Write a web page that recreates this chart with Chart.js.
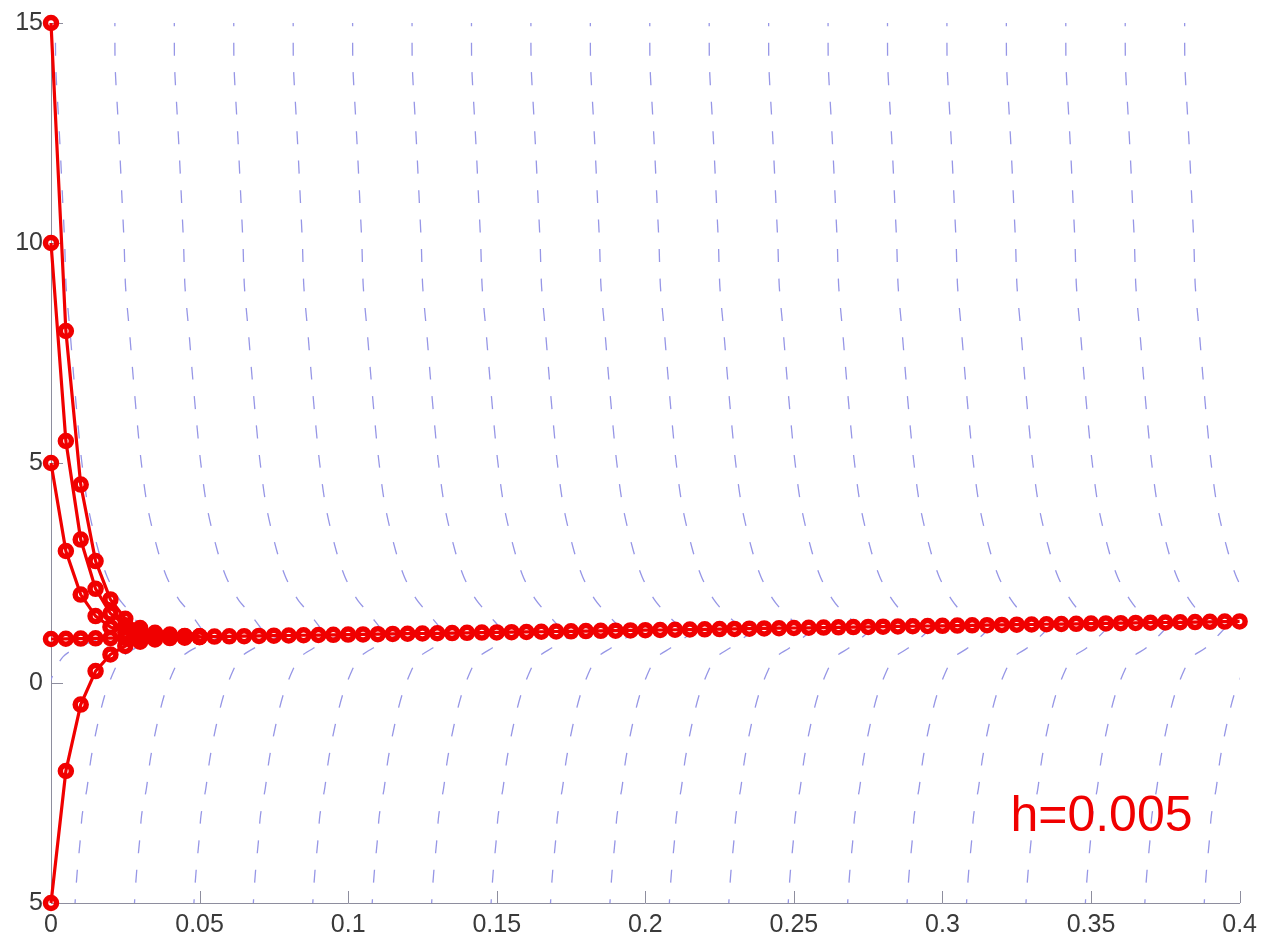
<!DOCTYPE html>
<html>
<head>
<meta charset="utf-8">
<title>Euler h=0.005</title>
<script src="https://cdn.jsdelivr.net/npm/chart.js@4.4.1/dist/chart.umd.min.js"></script>
<style>
    html, body { margin: 0; padding: 0; background: #fff; }
    canvas { display: block; }
</style>
</head>
<body>
<canvas id="euler-chart" width="1264" height="940"></canvas>
<script>
// time steps, h = 0.005
const steps = [
    0, 0.005, 0.01, 0.015, 0.02, 0.025, 0.03, 0.035, 0.04, 0.045,
    0.05, 0.055, 0.06, 0.065, 0.07, 0.075, 0.08, 0.085, 0.09, 0.095,
    0.1, 0.105, 0.11, 0.115, 0.12, 0.125, 0.13, 0.135, 0.14, 0.145,
    0.15, 0.155, 0.16, 0.165, 0.17, 0.175, 0.18, 0.185, 0.19, 0.195,
    0.2, 0.205, 0.21, 0.215, 0.22, 0.225, 0.23, 0.235, 0.24, 0.245,
    0.25, 0.255, 0.26, 0.265, 0.27, 0.275, 0.28, 0.285, 0.29, 0.295,
    0.3, 0.305, 0.31, 0.315, 0.32, 0.325, 0.33, 0.335, 0.34, 0.345,
    0.35, 0.355, 0.36, 0.365, 0.37, 0.375, 0.38, 0.385, 0.39, 0.395,
    0.4,
];

// Euler iterates for each starting value
const fromOne = [
    1, 1.005, 1.01, 1.015, 1.02, 1.025, 1.03, 1.035, 1.04, 1.045,
    1.05, 1.055, 1.06, 1.065, 1.07, 1.075, 1.08, 1.085, 1.09, 1.095,
    1.1, 1.105, 1.11, 1.115, 1.12, 1.125, 1.13, 1.135, 1.14, 1.145,
    1.15, 1.155, 1.16, 1.165, 1.17, 1.175, 1.18, 1.185, 1.19, 1.195,
    1.2, 1.205, 1.21, 1.215, 1.22, 1.225, 1.23, 1.235, 1.24, 1.245,
    1.25, 1.255, 1.26, 1.265, 1.27, 1.275, 1.28, 1.285, 1.29, 1.295,
    1.3, 1.305, 1.31, 1.315, 1.32, 1.325, 1.33, 1.335, 1.34, 1.345,
    1.35, 1.355, 1.36, 1.365, 1.37, 1.375, 1.38, 1.385, 1.39, 1.395,
    1.4,
];
const fromFifteen = [15, 8.0, 4.51, 2.77, 1.9, 1.46, 1.25, 1.14, 1.1, 1.07, 1.06];
const fromTen = [10, 5.5, 3.26, 2.14, 1.58, 1.31, 1.17, 1.11, 1.08, 1.06, 1.06];
const fromFive = [5, 3.0, 2.01, 1.52, 1.27, 1.15, 1.09, 1.07, 1.06, 1.05, 1.05];
const fromMinusFive = [-5, -2.0, -0.49, 0.27, 0.65, 0.84, 0.94, 0.99, 1.02, 1.03, 1.04];

const xTickLabels = ['0', '0.05', '0.1', '0.15', '0.2', '0.25', '0.3', '0.35', '0.4'];
const yTickLabels = ['5', '0', '5', '10', '15'];

// direction field: dashed solution curves coming in from the top edge...
const topStarts = [
    0.0015, 0.0215, 0.0415, 0.0615, 0.0815, 0.1015, 0.1215, 0.1415, 0.1615, 0.1815,
    0.2015, 0.2215, 0.2415, 0.2615, 0.2815, 0.3015, 0.3215, 0.3415, 0.3615, 0.3815,
];
const topCurveY = [15.3, 15, 14, 13, 12, 11, 10, 9, 8, 7, 6, 5, 4, 3, 2.4, 1.9, 1.6, null];
const topCurveDx = [0, 0, 0.0001, 0.0009, 0.0017, 0.0024, 0.0031, 0.0036, 0.0049, 0.0061, 0.0074, 0.0089, 0.011, 0.0145, 0.0175, 0.0215, 0.0252, 0.031];

// ...and from the bottom edge (null = where the curve meets the red line)
const bottomStarts = [
    -0.0119, 0.0081, 0.0281, 0.0481, 0.0681, 0.0881, 0.1081, 0.1281, 0.1481, 0.1681, 0.1881,
    0.2081, 0.2281, 0.2481, 0.2681, 0.2881, 0.3081, 0.3281, 0.3481, 0.3681, 0.3881,
];
const bottomCurveY = [-5.4, -5, -4.3, -3.6, -3, -2.4, -1.7, -1.0, -0.3, 0.3, 0.6, 0.8, null];
const bottomCurveDx = [-0.0002, 0, 0.0007, 0.0017, 0.0024, 0.004, 0.0054, 0.0074, 0.0099, 0.0133, 0.016, 0.0205, 0.029];

const red = 'rgb(240, 0, 0)';
const fieldColor = 'rgb(150, 150, 230)';
const axisColor = '#8e8e9e';
const labelFont = { family: "'Liberation Sans', Arial, sans-serif", size: 25 };

function lineAt(x) {
    let best = 0;
    steps.forEach((s, i) => {
        if (Math.abs(s - x) < Math.abs(steps[best] - x)) best = i;
    });
    return fromOne[best];
}

function fieldCurve(x0, ys, dxs, dashOffset) {
    const pts = ys.map((y, i) => {
        const x = x0 + dxs[i];
        return { x: x, y: y === null ? lineAt(x) : y };
    });
    return {
        data: pts,
        borderColor: fieldColor,
        borderWidth: 1.3,
        borderDash: [13, 16.5],
        borderDashOffset: dashOffset,
        pointRadius: 0,
        tension: 0.3,
        order: 1,
    };
}

function eulerSet(values) {
    return {
        data: values,
        borderColor: red,
        borderWidth: 3.2,
        pointStyle: 'circle',
        pointRadius: 5.5,
        pointBorderWidth: 5.5,
        pointBorderColor: red,
        pointBackgroundColor: 'rgba(255, 255, 255, 0)',
        tension: 0,
        clip: false,
        order: 0,
    };
}

const datasets = [
    eulerSet(fromOne),
    eulerSet(fromFifteen),
    eulerSet(fromTen),
    eulerSet(fromFive),
    eulerSet(fromMinusFive),
];
topStarts.forEach(x0 => datasets.push(fieldCurve(x0, topCurveY, topCurveDx, 26)));
bottomStarts.forEach(x0 => datasets.push(fieldCurve(x0, bottomCurveY, bottomCurveDx, 21)));

// tick marks point into the plot
const innerTicks = {
    id: 'innerTicks',
    beforeDatasetsDraw(chart) {
        const { ctx, chartArea, scales } = chart;
        ctx.save();
        ctx.strokeStyle = axisColor;
        ctx.lineWidth = 1;
        ctx.beginPath();
        scales.x.ticks.forEach(t => {
            const px = Math.round(scales.x.getPixelForValue(t.value)) + 0.5;
            ctx.moveTo(px, chartArea.bottom);
            ctx.lineTo(px, chartArea.bottom - 12);
        });
        scales.y.ticks.forEach(t => {
            const py = Math.round(scales.y.getPixelForValue(t.value)) + 0.5;
            ctx.moveTo(chartArea.left, py);
            ctx.lineTo(chartArea.left + 12, py);
        });
        ctx.stroke();
        ctx.restore();
    }
};

const stepLabel = {
    id: 'stepLabel',
    afterDraw(chart) {
        const { ctx, scales } = chart;
        ctx.save();
        ctx.fillStyle = red;
        ctx.font = "50px 'Liberation Sans', Arial, sans-serif";
        ctx.textAlign = 'center';
        ctx.textBaseline = 'middle';
        ctx.fillText('h=0.005', scales.x.getPixelForValue(0.3535), scales.y.getPixelForValue(-3.05));
        ctx.restore();
    }
};

new Chart(document.getElementById('euler-chart'), {
    type: 'line',
    data: {
        labels: steps,
        datasets: datasets,
    },
    options: {
        responsive: false,
        animation: false,
        events: [],
        layout: { padding: { top: 21, right: 23, left: 0, bottom: 0 } },
        plugins: {
            legend: { display: false },
            tooltip: { enabled: false },
        },
        scales: {
            x: {
                type: 'linear',
                min: 0,
                max: 0.4,
                afterFit: scale => { scale.height = 37; },
                ticks: {
                    stepSize: 0.05,
                    padding: 7,
                    maxRotation: 0,
                    autoSkip: false,
                    color: '#3a3a3a',
                    font: labelFont,
                    callback: (value, index) => xTickLabels[index],
                },
                grid: { display: true, drawOnChartArea: false, drawTicks: false },
                border: { color: axisColor, width: 1 },
            },
            y: {
                type: 'linear',
                min: -5,
                max: 15,
                afterFit: scale => { scale.width = 51; },
                ticks: {
                    stepSize: 5,
                    padding: 8,
                    color: '#3a3a3a',
                    font: labelFont,
                    callback: (value, index) => yTickLabels[index],
                },
                grid: { display: true, drawOnChartArea: false, drawTicks: false },
                border: { color: axisColor, width: 1 },
            },
        },
    },
    plugins: [innerTicks, stepLabel],
});
</script>
</body>
</html>
